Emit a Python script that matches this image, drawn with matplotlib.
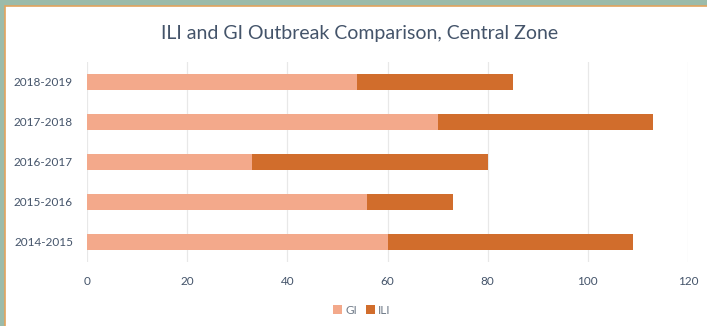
import matplotlib.pyplot as plt
from matplotlib.patches import Rectangle
import numpy as np

seasons = ['2014-2015', '2015-2016', '2016-2017', '2017-2018', '2018-2019']
gi = [60, 56, 33, 70, 54]
ili = [49, 17, 47, 43, 31]
x_ticks = [0, 20, 40, 60, 80, 100, 120]

GI_COLOR = '#F3A98B'
ILI_COLOR = '#D16D2C'
TEXT_COLOR = '#44546A'


def main():
    plt.rcParams['font.family'] = ['Lato', 'DejaVu Sans']

    fig = plt.figure(figsize=(7.07, 3.26), dpi=100)
    fig.patch.set_facecolor('#9BBBAA')

    # white panel with thin orange frame
    panel = Rectangle((5 / 707, -0.1), 1.0, 1 - 6 / 326 + 0.1,
                      transform=fig.transFigure, facecolor='white',
                      edgecolor='#E2A35E', linewidth=1.2, zorder=-5)
    fig.patches.append(panel)

    ax = fig.add_axes([87 / 707, 1 - 262 / 326, 601 / 707, 200 / 326])
    ax.set_facecolor('none')

    y = np.arange(len(seasons))
    ax.barh(y, gi, height=0.4, color=GI_COLOR, label='GI', zorder=3)
    ax.barh(y, ili, height=0.4, left=gi, color=ILI_COLOR, label='ILI', zorder=3)

    ax.set_xlim(0, 120)
    ax.set_ylim(-0.5, len(seasons) - 0.5)
    ax.set_xticks(x_ticks)
    ax.set_yticks(y)
    ax.set_yticklabels(seasons)
    ax.grid(axis='x', color='#E8E8E8', linewidth=0.9, zorder=0)
    ax.tick_params(length=0, labelsize=8.5, labelcolor=TEXT_COLOR)
    ax.tick_params(axis='x', pad=10)
    ax.tick_params(axis='y', pad=10)
    for s in ax.spines.values():
        s.set_visible(False)

    fig.text(360 / 707, 1 - 34 / 326, 'ILI and GI Outbreak Comparison, Central Zone',
             ha='center', va='center', fontsize=14, color=TEXT_COLOR)

    fig.legend(loc='center', bbox_to_anchor=(362 / 707, 1 - 310 / 326),
               ncol=2, frameon=False, fontsize=8.5, labelcolor='#6F7A88',
               handlelength=0.7, handleheight=0.7, handletextpad=0.3,
               columnspacing=0.8)

    fig.savefig('out.png', dpi=100, facecolor=fig.get_facecolor())


if __name__ == "__main__":
    main()
